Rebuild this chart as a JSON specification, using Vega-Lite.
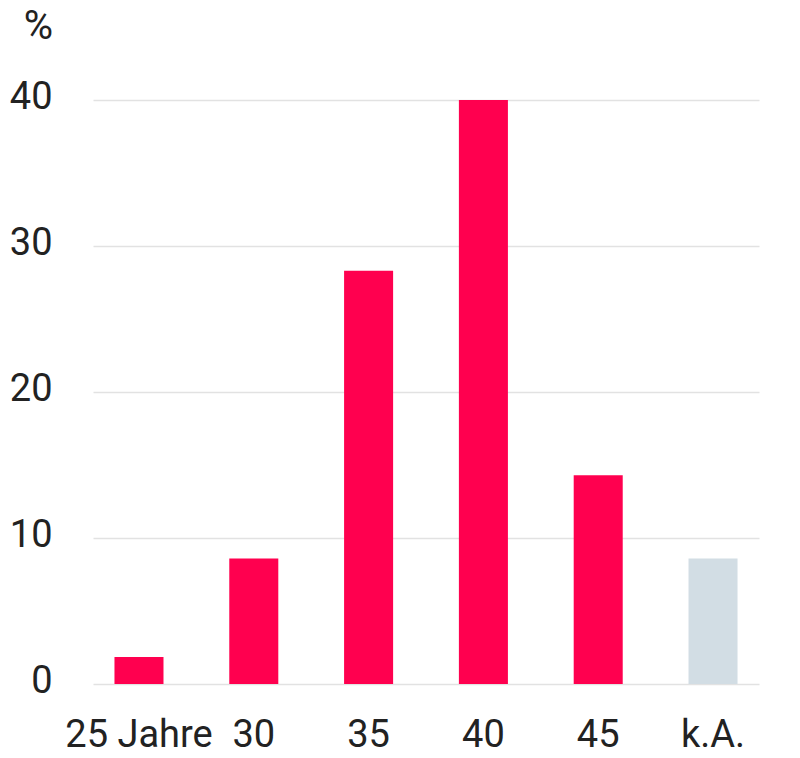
{
  "$schema": "https://vega.github.io/schema/vega-lite/v6.json",
  "description": "Altersverteilung in Prozent",
  "background": "white",
  "autosize": "none",
  "padding": {"left": 93, "top": 100, "right": 41, "bottom": 74},
  "width": 666,
  "height": 584,
  "data": {
    "values": [
      {"alter": "25 Jahre", "anteil": 1.85, "gruppe": "Angabe"},
      {"alter": "30", "anteil": 8.6, "gruppe": "Angabe"},
      {"alter": "35", "anteil": 28.3, "gruppe": "Angabe"},
      {"alter": "40", "anteil": 40.0, "gruppe": "Angabe"},
      {"alter": "45", "anteil": 14.3, "gruppe": "Angabe"},
      {"alter": "k.A.", "anteil": 8.6, "gruppe": "keine Angabe"}
    ]
  },
  "mark": "bar",
  "encoding": {
    "x": {
      "field": "alter",
      "type": "nominal",
      "sort": null,
      "title": null,
      "scale": {"paddingInner": 0.573, "paddingOuter": 0.187},
      "axis": {
        "labelAngle": 0,
        "labelFontSize": 38,
        "labelPadding": 32,
        "labelBaseline": "top",
        "ticks": false,
        "domain": false
      }
    },
    "y": {
      "field": "anteil",
      "type": "quantitative",
      "scale": {"domain": [0, 40], "nice": false},
      "axis": {
        "values": [0, 10, 20, 30, 40],
        "labelFontSize": 38,
        "labelPadding": 41,
        "labelOffset": -3,
        "ticks": false,
        "domain": false,
        "gridColor": "#e2e2e2",
        "gridWidth": 1.5,
        "title": "%",
        "titleAngle": 0,
        "titleFontSize": 40,
        "titleFontWeight": "normal",
        "titleAlign": "center",
        "titleBaseline": "middle",
        "titleX": -55,
        "titleY": -74
      }
    },
    "color": {
      "field": "gruppe",
      "type": "nominal",
      "legend": null,
      "scale": {"domain": ["Angabe", "keine Angabe"], "range": ["#ff004f", "#d2dde4"]}
    }
  },
  "config": {
    "view": {"stroke": "transparent"},
    "font": "Roboto",
    "axis": {"labelColor": "#222222", "titleColor": "#222222", "labelFont": "Roboto", "titleFont": "Roboto"}
  }
}
